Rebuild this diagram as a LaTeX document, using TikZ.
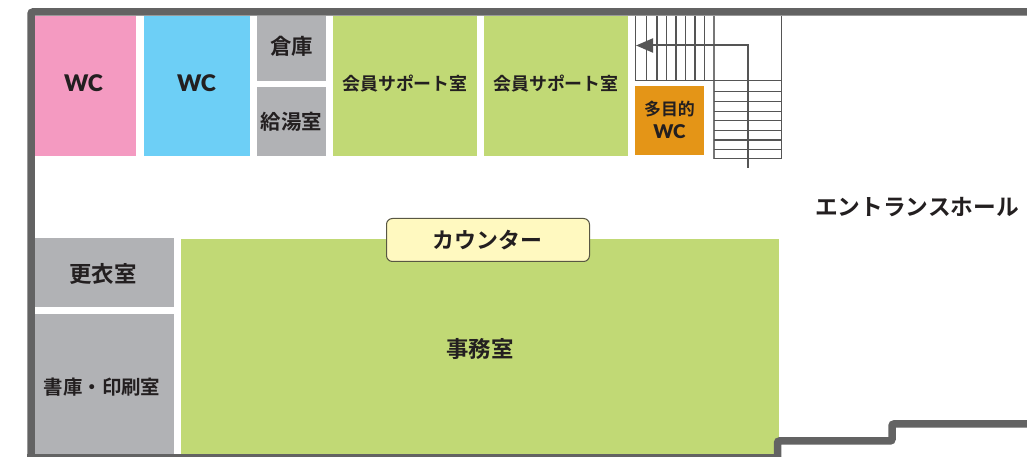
\documentclass[tikz,border=0pt]{standalone}
\usepackage{fontspec}
\usetikzlibrary{arrows.meta}
\setmainfont{Noto Sans CJK JP}[BoldFont={* Bold}]
\newfontfamily\wcfont{Lato}[BoldFont={* Black}]
\definecolor{wallc}{HTML}{636363}
\definecolor{pinkc}{HTML}{F49AC1}
\definecolor{bluec}{HTML}{6DCFF6}
\definecolor{grayc}{HTML}{B1B2B5}
\definecolor{greenc}{HTML}{C1D975}
\definecolor{orangec}{HTML}{E49517}
\definecolor{yellowc}{HTML}{FFF9C0}
\definecolor{inkc}{HTML}{231F20}
\definecolor{stairc}{HTML}{555555}
\tikzset{
  room/.style={inner sep=0pt,outer sep=0pt,draw=none,rectangle},
  lab/.style={inner sep=0pt,outer sep=0pt,text=inkc,font=\bfseries\fontsize{#1}{#1}\selectfont},
  wclab/.style={inner sep=0pt,outer sep=0pt,text=inkc,font=\wcfont\bfseries\fontsize{#1}{#1}\selectfont},
  wall/.style={draw=wallc,line width=7.5bp,rounded corners=2bp,line cap=butt},
  tread/.style={draw=stairc,line width=1.1bp},
  walk/.style={draw=stairc,line width=2bp,-{Triangle[length=17bp,width=14bp,fill=stairc]}},
}
\begin{document}
\begin{tikzpicture}[x=1bp,y=-1bp]
\useasboundingbox (0,0) rectangle (1027,457);
% rooms
\node[room,fill=pinkc,minimum width=101bp,minimum height=140bp] (wcf) at (85.5,86) {};
\node[room,fill=bluec,minimum width=106bp,minimum height=140bp] (wcm) at (197,86) {};
\node[room,fill=grayc,minimum width=69bp,minimum height=65bp] (sto) at (291.5,48.5) {};
\node[room,fill=grayc,minimum width=69bp,minimum height=69bp] (kit) at (291.5,121.5) {};
\node[room,fill=greenc,minimum width=144bp,minimum height=140bp] (m1) at (405,86) {};
\node[room,fill=greenc,minimum width=144bp,minimum height=140bp] (m2) at (556,86) {};
\node[room,fill=orangec,minimum width=69bp,minimum height=69bp] (mp) at (669.5,120.5) {};
\node[room,fill=grayc,minimum width=139bp,minimum height=69bp] (loc) at (104.5,272.5) {};
\node[room,fill=grayc,minimum width=139bp,minimum height=140bp] (lib) at (104.5,384) {};
\node[room,fill=greenc,minimum width=598bp,minimum height=215bp] (off) at (480,346.5) {};
\node[room,fill=yellowc,draw=black!65!yellowc,line width=1bp,rounded corners=6bp,minimum width=203bp,minimum height=43bp] (cnt) at (488,240) {};
% stairs
\foreach \x in {635.3,646.3,657,666.3,676,685.7,695,704.3}
  \draw[tread] (\x,16) -- (\x,80.3);
\draw[tread,draw=stairc!80] (714,16) -- (714,158.7);
\draw[tread] (781.3,16) -- (781.3,158.7);
\draw[tread] (635.3,80.3) -- (781.3,80.3);
\foreach \y in {91.3,101.7,111.3,120.7,130.3,140,149.3,158.7}
  \draw[tread] (714,\y) -- (781.3,\y);
\coordinate (ws) at (748,168);
\coordinate (wm) at (748,45.5);
\coordinate (we) at (636,45.5);
\draw[walk] (ws) -- (wm) -- (we);
% walls
\draw[wall] (31,460) -- (31,12) -- (1030,12);
\draw[wall,line width=6.5bp] (27,457.5) -- (777.5,457.5);
\draw[wall] (777.5,460) -- (777.5,441) -- (892,441) -- (892,424) -- (1030,424);
% labels
\node[wclab=23] (twf) at (83.5,83.5) {WC};
\node[wclab=23] (twm) at (196.5,83.5) {WC};
\node[lab=21.5] (tsto) at (291.5,46) {倉庫};
\node[lab=20.5] (tkit) at (291.5,122) {給湯室};
\node[lab=18] (tm1) at (405,84) {会員サポート室};
\node[lab=18] (tm2) at (556,84) {会員サポート室};
\node[lab=17] (tmp) at (669.5,109) {多目的};
\node[wclab=19] (tmw) at (669.5,132) {WC};
\node[lab=22.5] (tloc) at (103,273.5) {更衣室};
\node[lab=19.5] (tlib) at (102,387) {書庫・印刷室};
\node[lab=22.5] (toff) at (480,349) {事務室};
\node[lab=22] (tcnt) at (487.5,240) {カウンター};
\node[lab=22.8] (thall) at (917,207) {エントランスホール};
\end{tikzpicture}
\end{document}
